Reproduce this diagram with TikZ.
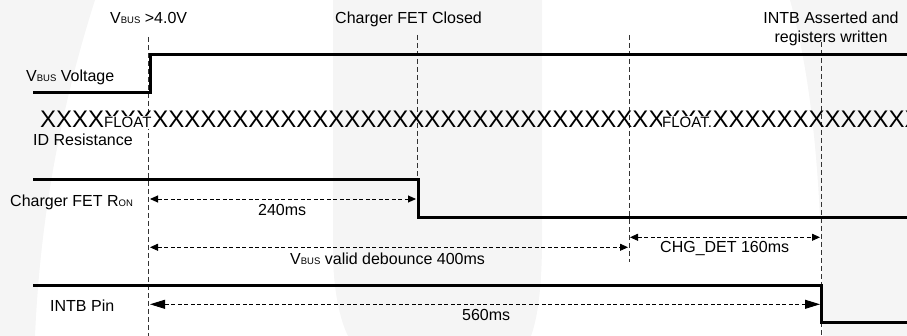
\documentclass[tikz,border=0pt]{standalone}
\usepackage{fontspec}
\setmainfont{Liberation Sans}
\usetikzlibrary{arrows.meta}
\newcommand{\sbs}[1]{{\fontsize{9.5}{10}\selectfont #1}}
\begin{document}
\begin{tikzpicture}[x=1pt,y=-1pt,
  sig/.style={line width=3pt},
  vdash/.style={line width=0.9pt, black!80, dash pattern=on 5pt off 3pt},
  dimline/.style={line width=0.9pt, dash pattern=on 4pt off 2.5pt,
     {Triangle[length=8pt,width=7pt]}-{Triangle[length=8pt,width=7pt]}},
  dimbig/.style={line width=0.9pt, dash pattern=on 4pt off 2.5pt,
     {Triangle[length=15pt,width=9pt]}-{Triangle[length=15pt,width=9pt]}},
  lbl/.style={inner sep=0pt, anchor=base west, font=\fontsize{16}{19}\selectfont},
  floatbox/.style={fill=white, inner xsep=0.5pt, inner ysep=0pt, anchor=base west,
     text height=11.8pt, text depth=1pt, font=\fontsize{15}{18}\selectfont},
  wm/.style={fill=black!4, draw=none}]
\useasboundingbox (0,0) rectangle (907,336);
% faint watermark
\fill[wm] (0,0) -- (95,0) .. controls (60,110) and (40,220) .. (35,336) -- (0,336) -- cycle;
\fill[wm] (333,0) -- (542,0) -- (542,240) .. controls (542,290) and (537,320) .. (531,336)
   -- (348,336) .. controls (340,320) and (333,290) .. (333,250) -- cycle;
\fill[wm] (790,0) .. controls (812,80) and (822,180) .. (823,336) -- (907,336) -- (907,0) -- cycle;
% event time lines
\coordinate (tA) at (148.5,0);
\coordinate (tB) at (417,0);
\coordinate (tC) at (629,0);
\coordinate (tD) at (821,0);
\draw[vdash] (tA |- 0,37) -- (tA |- 0,336);
\draw[vdash] (tB |- 0,35) -- (tB |- 0,180);
\draw[vdash] (tC |- 0,35) -- (tC |- 0,262);
\draw[vdash] (tD |- 0,42) -- (tD |- 0,336);
% signals
\coordinate (v0) at (33,93);
\coordinate (v1) at (150,93);
\coordinate (v2) at (150,55);
\coordinate (v3) at (907,55);
\draw[sig] (v0) -- (v1) -- (v2) -- (v3);
\coordinate (f0) at (33,180);
\coordinate (f1) at (418,180);
\coordinate (f2) at (418,218);
\coordinate (f3) at (907,218);
\draw[sig] (f0) -- (f1) -- (f2) -- (f3);
\coordinate (i0) at (33,285.5);
\coordinate (i1) at (821.5,285.5);
\coordinate (i2) at (821.5,323);
\coordinate (i3) at (907,323);
\draw[sig] (i0) -- (i1) -- (i2) -- (i3);
% ID resistance row
\begin{scope}
\clip (0,0) rectangle (907,336);
\node[inner sep=0pt, anchor=base west, font=\fontsize{24}{24}\selectfont] (xrow) at (40,128)
  {XXXXXXXXXXXXXXXXXXXXXXXXXXXXXXXXXXXXXXXXXXXXXXXXXXXXXXXXXX};
\end{scope}
\node[floatbox] (fl1) at (103.5,128) {FLOAT};
\node[floatbox] (fl2) at (661.5,128) {FLOAT.};
% labels
\node[lbl] (lA) at (110,24) {V\sbs{BUS} >4.0V};
\node[lbl] (lB) at (335,24) {Charger FET Closed};
\node[lbl, anchor=base] (lD1) at (831,24) {INTB Asserted and};
\node[lbl, anchor=base] (lD2) at (831,43) {registers written};
\node[lbl] (nV) at (26,82) {V\sbs{BUS} Voltage};
\node[lbl] (nID) at (33,146) {ID Resistance};
\node[lbl] (nF) at (10,207) {Charger FET R\sbs{ON}};
\node[lbl] (nI) at (50,311.5) {INTB Pin};
% timing arrows
\coordinate (a1) at (150,199);   \coordinate (a2) at (416,199);
\coordinate (b1) at (150,247.3); \coordinate (b2) at (628,247.3);
\coordinate (c1) at (630,237.3); \coordinate (c2) at (820,237.3);
\coordinate (d1) at (150,304.3); \coordinate (d2) at (820,304.3);
\draw[dimline] (a1) -- (a2);
\draw[dimline] (b1) -- (b2);
\draw[dimline] (c1) -- (c2);
\draw[dimbig] (d1) -- (d2);
\node[lbl] (m240) at (258,216) {240ms};
\node[lbl] (m400) at (290,265) {V\sbs{BUS} valid debounce 400ms};
\node[lbl] (m160) at (660,253) {CHG\_DET 160ms};
\node[lbl] (m560) at (462,321) {560ms};
\end{tikzpicture}
\end{document}
